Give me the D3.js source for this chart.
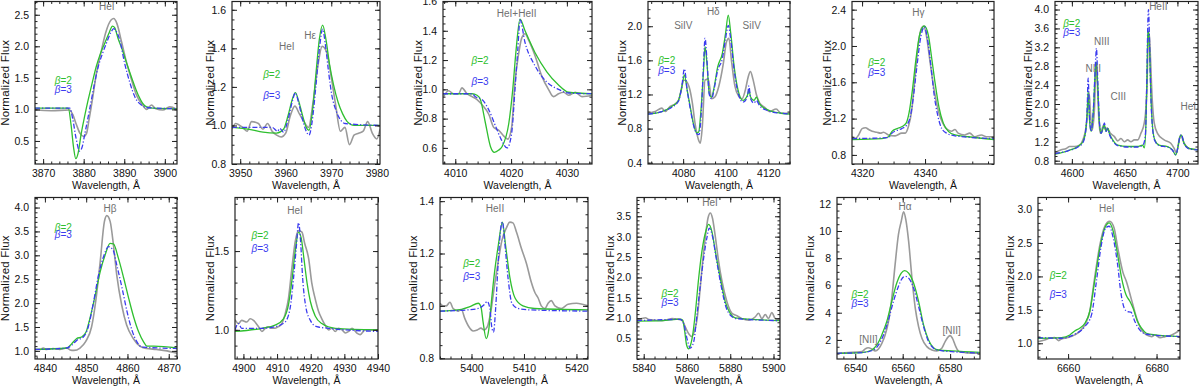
<!DOCTYPE html>
<html>
<head>
<meta charset="utf-8">
<script src="https://cdn.jsdelivr.net/npm/d3@7"></script>
<style>
body { margin: 0; background: #fff; }
</style>
</head>
<body>
<div class="viz"></div>
<script>
// ---- data: [wavelength (A), normalized flux] ----
var obs1 = [[3868,0.99],[3872,0.98],[3876.5,0.99],[3877.3,0.92],[3878.2,0.76],[3879.1,0.62],[3880.0,0.57],[3880.7,0.62],[3881.3,0.83],[3882.3,1.22],[3883.0,1.52],[3884.4,1.94],[3885.4,2.21],[3886.8,2.42],[3887.4,2.44],[3888.2,2.36],[3889.3,2.08],[3890.5,1.76],[3891.8,1.47],[3893.0,1.23],[3894.5,1.07],[3895.5,1.0],[3896.7,1.07],[3897.8,1.01],[3899.5,0.99],[3901.2,1.04],[3903,1.0]];
var b2_1 = [[3868,1.02],[3876.2,1.02],[3876.9,0.75],[3877.5,0.40],[3878.05,0.22],[3878.6,0.30],[3879.4,0.62],[3880.2,0.88],[3881.1,1.15],[3882.1,1.42],[3883.1,1.68],[3884.1,1.88],[3885.2,2.05],[3886.3,2.22],[3887.1,2.32],[3887.6,2.30],[3888.5,2.12],[3889.5,1.95],[3890.5,1.75],[3891.5,1.56],[3892.5,1.38],[3893.5,1.22],[3894.5,1.10],[3895.5,1.04],[3897,1.02],[3903,1.01]];
var b3_1 = [[3868,1.02],[3876.6,1.02],[3877.3,0.85],[3878.1,0.55],[3879.0,0.34],[3879.6,0.40],[3880.3,0.62],[3881.1,0.88],[3881.9,1.15],[3882.7,1.42],[3883.6,1.68],[3884.6,1.88],[3885.6,2.05],[3886.7,2.22],[3887.4,2.28],[3887.9,2.25],[3888.9,2.10],[3890.1,1.73],[3891.4,1.42],[3892.6,1.20],[3894.2,1.07],[3895.5,1.03],[3903,1.01]];

var obs2 = [[3948.2,0.98],[3949,1.01],[3950.5,0.99],[3951.5,0.97],[3952.5,1.02],[3954,1.01],[3955,0.98],[3956,1.01],[3957,0.97],[3958,0.95],[3959,0.94],[3960,0.96],[3961,1.05],[3962,1.10],[3963,1.06],[3964,1.02],[3965,0.99],[3966,1.12],[3967,1.30],[3968,1.41],[3969,1.38],[3970,1.25],[3971,1.10],[3972,0.97],[3973,0.99],[3974,0.90],[3975,0.95],[3976,0.96],[3977,0.97],[3978,1.02],[3979,0.96],[3980,0.93],[3980.7,0.98]];
var b2_2 = [[3948.2,0.99],[3952,0.98],[3955,0.965],[3958,0.96],[3959.5,0.98],[3960.5,1.05],[3961.5,1.14],[3962.1,1.17],[3962.8,1.13],[3963.6,1.06],[3964.5,0.99],[3965.1,0.975],[3965.8,1.06],[3966.6,1.26],[3967.4,1.45],[3968.1,1.52],[3968.8,1.45],[3969.6,1.32],[3970.5,1.21],[3971.5,1.12],[3972.5,1.06],[3973.5,1.02],[3975,1.0],[3980.7,1.0]];
var b3_2 = [[3948.2,0.99],[3957,0.99],[3958.2,0.97],[3958.7,0.985],[3959.5,0.965],[3960.5,1.03],[3961.5,1.13],[3962.1,1.17],[3962.8,1.12],[3963.6,1.04],[3964.5,0.97],[3965.1,0.95],[3965.8,1.02],[3966.6,1.20],[3967.4,1.40],[3968.1,1.50],[3968.7,1.42],[3969.4,1.28],[3970.1,1.16],[3971,1.08],[3972,1.03],[3973,1.01],[3980.7,1.0]];

var obs3 = [[4007.9,0.95],[4008.8,0.99],[4009.7,0.97],[4010.6,0.97],[4011.2,1.01],[4012.1,0.97],[4013.0,0.95],[4013.9,0.93],[4014.9,0.89],[4016.0,0.83],[4016.9,0.74],[4017.8,0.72],[4018.7,0.68],[4019.4,0.66],[4020.1,0.74],[4020.7,1.05],[4021.3,1.23],[4021.9,1.35],[4022.5,1.38],[4023.1,1.34],[4024.3,1.23],[4025.5,1.09],[4026.7,1.0],[4027.6,0.95],[4028.5,0.97],[4029.4,0.98],[4030.3,0.96],[4031.5,0.98],[4032.7,0.95],[4034.5,0.96]];
var b2_3 = [[4007.8,0.97],[4013.0,0.97],[4013.9,0.96],[4014.5,0.93],[4015.4,0.77],[4016.3,0.61],[4017.0,0.57],[4017.8,0.585],[4018.4,0.61],[4019.6,0.77],[4020.3,1.0],[4020.9,1.27],[4021.6,1.48],[4022.5,1.40],[4024.3,1.25],[4026.4,1.12],[4028.5,1.03],[4030.3,0.98],[4034.5,0.97]];
var b3_3 = [[4007.8,0.97],[4013.0,0.97],[4013.6,0.95],[4014.8,0.93],[4016.0,0.86],[4017.2,0.75],[4018.2,0.66],[4019.3,0.60],[4020.1,0.70],[4020.7,1.0],[4021.2,1.27],[4021.6,1.475],[4022.5,1.32],[4024.3,1.16],[4026.4,1.05],[4028.5,1.0],[4030.3,0.975],[4034.5,0.97]];

var obs4 = [[4063.5,0.98],[4066.9,1.0],[4070.0,1.04],[4071.6,1.0],[4073.9,1.06],[4076.3,1.09],[4077.8,1.13],[4079.1,1.25],[4080.2,1.37],[4081.7,1.35],[4082.8,1.29],[4084.4,1.09],[4085.6,0.86],[4087.2,0.67],[4088.1,0.63],[4089.0,0.82],[4090.3,1.37],[4091.8,1.38],[4093.4,1.15],[4094.9,1.17],[4096.8,1.30],[4098.8,1.55],[4100.4,1.82],[4101.5,1.86],[4102.7,1.60],[4104.3,1.30],[4106.1,1.18],[4107.7,1.15],[4109.2,1.25],[4110.5,1.40],[4111.6,1.47],[4112.8,1.38],[4114.4,1.20],[4115.9,1.10],[4118.3,1.05],[4120.6,1.0],[4123.7,1.03],[4126.0,0.98],[4130.2,0.98]];
var b2_4 = [[4063.5,0.97],[4070.0,1.0],[4074.7,1.06],[4077.8,1.13],[4079.4,1.29],[4080.6,1.43],[4081.9,1.25],[4083.3,1.06],[4084.8,0.86],[4086.4,0.75],[4087.3,0.76],[4088.4,1.02],[4089.5,1.45],[4090.3,1.76],[4091.2,1.56],[4092.3,1.21],[4093.4,1.17],[4094.6,1.29],[4096.2,1.52],[4098.4,1.68],[4099.9,1.91],[4101.2,2.13],[4102.4,1.91],[4104.0,1.52],[4105.8,1.25],[4108.1,1.13],[4110.2,1.19],[4110.9,1.25],[4111.7,1.17],[4113.3,1.13],[4114.4,1.17],[4115.9,1.09],[4119.8,1.02],[4126.0,0.98],[4130.2,0.97]];
var b3_4 = [[4063.5,0.97],[4070.0,1.0],[4074.7,1.05],[4077.8,1.12],[4079.4,1.30],[4080.6,1.50],[4081.9,1.25],[4083.3,1.04],[4084.8,0.85],[4086.4,0.74],[4087.5,0.73],[4088.5,0.98],[4089.5,1.50],[4090.3,1.86],[4091.2,1.60],[4092.3,1.20],[4093.4,1.15],[4094.6,1.27],[4096.2,1.48],[4098.4,1.62],[4099.9,1.85],[4101.2,2.01],[4102.4,1.84],[4104.0,1.48],[4105.8,1.22],[4108.1,1.11],[4110.2,1.17],[4110.9,1.30],[4111.7,1.15],[4113.3,1.10],[4114.4,1.13],[4115.9,1.07],[4119.8,1.01],[4126.0,0.98],[4130.2,0.97]];

var obs5 = [[4316.8,1.0],[4317.9,0.98],[4318.9,1.02],[4320.0,1.09],[4321.1,1.10],[4322.1,1.08],[4323.2,1.06],[4324.7,1.05],[4325.8,1.04],[4326.8,1.05],[4328.4,1.02],[4330.5,1.01],[4332.6,1.04],[4333.7,1.04],[4334.7,1.11],[4335.8,1.30],[4336.8,1.66],[4337.9,2.03],[4338.9,2.20],[4339.6,2.22],[4340.5,2.10],[4341.5,1.85],[4342.5,1.60],[4343.5,1.40],[4344.5,1.25],[4345.5,1.16],[4346.5,1.10],[4347.6,1.07],[4348.4,1.06],[4349.5,1.08],[4350.5,1.04],[4352.6,1.02],[4354.2,1.04],[4355.8,1.0],[4357.9,1.02],[4359.5,1.0],[4361.9,1.0]];
var b2_5 = [[4316.8,0.97],[4326.3,0.98],[4328.4,1.0],[4329.5,1.06],[4331.1,1.09],[4332.6,1.11],[4334.0,1.15],[4334.9,1.26],[4336.0,1.52],[4337.1,1.85],[4338.4,2.14],[4339.8,2.22],[4341.1,2.11],[4342.1,1.87],[4343.2,1.59],[4344.4,1.33],[4345.8,1.15],[4347.4,1.06],[4349.5,1.02],[4353.7,1.0],[4361.9,0.97]];
var b3_5 = [[4316.8,0.98],[4328.4,0.99],[4329.5,1.04],[4331.1,1.07],[4332.6,1.09],[4334.2,1.13],[4335.3,1.22],[4336.3,1.44],[4337.4,1.77],[4338.7,2.11],[4339.8,2.21],[4340.8,2.07],[4341.9,1.77],[4342.9,1.46],[4344.0,1.24],[4345.3,1.09],[4346.8,1.04],[4349.5,1.01],[4361.9,0.98]];

var obs6 = [[4584,0.97],[4589.9,1.03],[4594.7,1.06],[4597.8,1.10],[4602.5,1.10],[4607.2,1.13],[4610.4,1.24],[4613.5,1.52],[4615.1,1.95],[4616.4,2.23],[4617.6,1.80],[4619.2,1.45],[4621.4,1.90],[4623.0,2.87],[4624.2,2.40],[4625.5,1.70],[4627.0,1.38],[4630.2,1.56],[4631.8,1.45],[4633.3,1.49],[4636.5,1.38],[4640.3,1.31],[4643.4,1.22],[4646.5,1.27],[4649.7,1.20],[4652.8,1.24],[4656.0,1.20],[4659.1,1.24],[4662.3,1.24],[4665.4,1.38],[4668.6,1.60],[4670.1,1.90],[4671.4,2.6],[4672.3,3.36],[4673.3,3.50],[4674.5,2.95],[4676.1,2.10],[4678.0,1.60],[4681.1,1.38],[4687.4,1.24],[4693.7,1.17],[4696.9,1.06],[4699.1,0.96],[4701.6,1.24],[4703.1,1.34],[4706.3,1.17],[4711.0,1.06],[4719.5,1.03]];
var b2_6 = [[4584,0.94],[4596.2,1.01],[4605.7,1.10],[4610.4,1.20],[4612.9,1.40],[4614.5,1.81],[4615.4,2.27],[4616.7,1.66],[4618.2,1.42],[4620.4,1.88],[4622.3,2.73],[4623.3,2.88],[4624.5,2.37],[4626.1,1.60],[4627.7,1.38],[4629.6,1.49],[4630.8,1.56],[4632.4,1.42],[4634.0,1.49],[4635.5,1.38],[4638.7,1.24],[4643.4,1.13],[4652.8,1.10],[4662.3,1.10],[4667.0,1.13],[4668.6,1.07],[4670.1,1.52],[4671.1,2.44],[4672.0,3.50],[4672.6,3.54],[4673.6,3.15],[4674.8,2.23],[4676.4,1.52],[4678.6,1.24],[4682.7,1.13],[4690.6,1.10],[4695.3,1.03],[4698.4,0.92],[4700.6,1.10],[4702.5,1.31],[4703.8,1.34],[4706.3,1.17],[4711.0,1.06],[4719.5,1.03]];
var b3_6 = [[4584,0.95],[4596.2,1.01],[4605.7,1.09],[4610.4,1.18],[4612.9,1.40],[4614.5,1.90],[4615.4,2.55],[4616.7,1.75],[4618.2,1.42],[4620.4,1.90],[4622.3,2.85],[4623.3,3.18],[4624.5,2.50],[4626.1,1.62],[4627.7,1.38],[4629.6,1.50],[4630.8,1.60],[4632.4,1.42],[4634.0,1.48],[4635.5,1.36],[4638.7,1.22],[4643.4,1.12],[4652.8,1.09],[4662.3,1.09],[4667.0,1.12],[4669.5,1.30],[4671.1,2.60],[4672.0,3.75],[4672.6,4.0],[4673.6,3.30],[4674.8,2.20],[4676.4,1.50],[4678.6,1.22],[4682.7,1.12],[4690.6,1.09],[4695.3,1.02],[4698.4,0.93],[4700.6,1.10],[4702.5,1.32],[4703.8,1.35],[4706.3,1.16],[4711.0,1.05],[4719.5,1.03]];

var obs7 = [[4837.6,1.03],[4838.8,1.03],[4839.6,1.06],[4840.4,1.03],[4842.0,1.05],[4843.6,1.03],[4845.3,1.06],[4846.1,1.02],[4847.0,1.01],[4848.5,1.06],[4849.9,1.20],[4851.3,1.50],[4852.4,2.10],[4853.4,2.87],[4854.4,3.70],[4855.0,3.83],[4855.8,3.71],[4856.6,3.22],[4857.4,2.59],[4858.6,1.96],[4859.8,1.54],[4861.4,1.26],[4863.0,1.10],[4864.6,1.05],[4867,1.03],[4869.6,1.0],[4872,0.95]];
var b2_7 = [[4837.6,1.03],[4845.3,1.06],[4846.5,1.15],[4847.7,1.26],[4848.9,1.29],[4850.0,1.40],[4850.9,1.68],[4852.2,2.17],[4853.4,2.66],[4854.6,3.01],[4855.8,3.25],[4856.6,3.24],[4857.8,2.94],[4859.1,2.52],[4860.3,2.10],[4861.5,1.71],[4862.7,1.40],[4863.9,1.19],[4864.7,1.10],[4866.4,1.10],[4872,1.06]];
var b3_7 = [[4837.6,1.03],[4845.3,1.06],[4846.5,1.12],[4847.7,1.22],[4849.3,1.29],[4850.5,1.50],[4851.8,2.03],[4853.0,2.59],[4854.2,2.97],[4855.4,3.18],[4856.5,3.11],[4857.4,2.80],[4858.7,2.31],[4859.9,1.82],[4861.1,1.43],[4862.3,1.19],[4863.5,1.08],[4872,1.05]];

var obs8 = [[4897.5,1.064],[4898.5,1.04],[4899.5,1.06],[4901.0,1.05],[4902.0,1.07],[4903.0,1.06],[4904.5,1.02],[4905.5,0.99],[4906.5,1.01],[4907.4,1.02],[4908.4,1.01],[4909.4,1.01],[4910.4,1.02],[4911.4,1.04],[4912.4,1.10],[4913.4,1.20],[4914.4,1.39],[4915.4,1.56],[4916.4,1.63],[4917.4,1.62],[4918.2,1.55],[4919.4,1.45],[4920.3,1.30],[4921.3,1.20],[4922.3,1.12],[4923.3,1.07],[4924.3,1.03],[4925.3,1.0],[4926.3,1.01],[4927.3,0.99],[4928.3,1.01],[4929.3,1.0],[4930.3,0.98],[4931.3,0.99],[4932.3,1.01],[4933.7,0.98],[4934.7,0.97],[4936.2,1.0],[4940,1.0]];
var b2_8 = [[4897.5,0.99],[4905.5,1.01],[4909.4,1.03],[4911.9,1.07],[4913.4,1.16],[4914.4,1.31],[4915.4,1.50],[4916.4,1.62],[4917.2,1.58],[4918.0,1.45],[4918.9,1.30],[4919.9,1.18],[4921.3,1.09],[4923.3,1.04],[4927.3,1.01],[4940,1.0]];
var b3_8 = [[4897.5,1.0],[4898.5,1.04],[4899.5,1.01],[4905.5,1.01],[4909.4,1.02],[4912.4,1.05],[4913.9,1.14],[4914.9,1.33],[4915.7,1.52],[4916.4,1.68],[4917.0,1.56],[4917.6,1.33],[4918.6,1.14],[4919.9,1.06],[4921.8,1.02],[4925.3,1.01],[4940,0.99]];

var obs9 = [[5394.0,1.01],[5394.6,1.0],[5395.2,1.0],[5395.9,1.014],[5396.5,0.99],[5397.5,0.98],[5398.1,0.985],[5398.7,0.953],[5399.5,0.92],[5400.3,0.904],[5401.1,0.908],[5401.8,0.915],[5402.4,0.908],[5403.0,0.92],[5403.7,0.98],[5404.4,1.08],[5405.1,1.17],[5405.8,1.25],[5406.7,1.30],[5407.3,1.32],[5407.9,1.317],[5408.6,1.28],[5409.5,1.22],[5410.5,1.16],[5411.4,1.09],[5412.1,1.05],[5412.7,1.03],[5413.3,1.0],[5414.0,0.99],[5414.6,1.01],[5415.2,1.02],[5415.9,1.0],[5417.1,0.99],[5418.4,1.006],[5420.0,1.01],[5422.2,1.0]];
var b2_9 = [[5394,0.98],[5398.1,0.987],[5399.7,0.997],[5401.3,1.01],[5401.8,0.997],[5402.2,0.94],[5402.8,0.875],[5403.3,0.91],[5403.8,1.017],[5404.4,1.13],[5405.1,1.23],[5405.9,1.32],[5406.5,1.23],[5407.3,1.11],[5408.3,1.03],[5409.8,1.0],[5412,0.99],[5422.2,0.985]];
var b3_9 = [[5394,0.98],[5399.4,0.985],[5401.3,0.99],[5402.4,1.004],[5403.0,1.017],[5403.5,0.99],[5403.9,0.914],[5404.2,0.90],[5404.6,0.99],[5405.1,1.17],[5405.6,1.30],[5405.9,1.32],[5406.3,1.25],[5407.0,1.10],[5407.7,1.01],[5408.9,0.99],[5410.8,0.985],[5422.2,0.98]];

var obs10 = [[5836.9,0.95],[5839.2,0.99],[5840.8,1.01],[5842.3,0.97],[5845.4,0.95],[5848.5,0.94],[5850.8,0.96],[5853.1,0.99],[5855.4,0.98],[5857.7,0.95],[5859.2,0.79],[5860.8,0.62],[5862.3,0.55],[5863.8,0.75],[5864.6,0.95],[5865.7,1.5],[5866.9,2.2],[5868.5,3.0],[5869.7,3.45],[5870.8,3.58],[5871.8,3.45],[5873.1,3.0],[5874.6,2.4],[5876.2,1.9],[5878.5,1.40],[5880.8,1.12],[5883.1,1.06],[5885.4,0.99],[5888.5,0.95],[5891.5,1.03],[5893.1,1.12],[5894.6,0.99],[5896.2,1.09],[5897.7,0.99],[5899.2,1.14],[5900.8,0.99],[5903,0.95]];
var b2_10 = [[5836.9,0.93],[5848.5,0.94],[5856.9,0.98],[5858.0,0.95],[5858.9,0.70],[5859.8,0.35],[5860.8,0.25],[5861.7,0.35],[5862.8,0.65],[5863.8,1.10],[5865.4,1.98],[5866.9,2.64],[5868.5,3.09],[5870.0,3.30],[5871.5,3.13],[5873.1,2.64],[5875.4,1.98],[5877.7,1.40],[5880.0,1.12],[5882.3,1.01],[5888.5,0.98],[5903,0.94]];
var b3_10 = [[5836.9,0.94],[5856.9,0.97],[5858.5,0.87],[5860.0,0.50],[5861.5,0.27],[5863.1,0.42],[5864.6,1.08],[5866.2,1.82],[5867.7,2.47],[5869.2,2.97],[5870.3,3.21],[5871.8,3.01],[5873.4,2.51],[5875.7,1.82],[5878.0,1.28],[5880.3,1.06],[5883.1,0.99],[5903,0.94]];

var obs11 = [[6532.3,1.02],[6537.2,1.07],[6542.8,1.14],[6544.2,1.34],[6545.4,1.43],[6547.0,1.34],[6548.4,1.19],[6549.8,1.34],[6551.2,1.75],[6552.6,2.37],[6554.0,3.35],[6555.4,5.07],[6556.8,7.53],[6558.2,9.74],[6559.4,10.72],[6560.4,11.41],[6561.3,10.85],[6562.5,9.25],[6563.9,6.55],[6565.3,4.33],[6566.7,2.98],[6568.1,2.12],[6570.2,1.51],[6572.3,1.26],[6574.4,1.19],[6576.5,1.39],[6577.9,1.88],[6579.3,2.25],[6580.0,2.32],[6581.0,2.12],[6582.4,1.51],[6583.8,1.14],[6586.3,1.07],[6592.6,1.02]];
var b2_11 = [[6532.3,1.02],[6542.8,1.07],[6547.0,1.26],[6549.1,1.63],[6551.2,2.37],[6553.3,3.35],[6555.4,4.83],[6557.5,6.18],[6559.4,6.91],[6560.8,7.09],[6562.5,6.91],[6564.6,6.18],[6566.7,4.83],[6568.8,3.11],[6570.9,2.0],[6573.0,1.43],[6575.1,1.26],[6580.7,1.19],[6592.6,1.09]];
var b3_11 = [[6532.3,1.02],[6542.8,1.07],[6547.7,1.26],[6549.8,1.63],[6551.9,2.37],[6554.0,3.47],[6556.1,4.83],[6558.2,5.93],[6559.9,6.55],[6561.1,6.67],[6562.7,6.50],[6564.6,5.81],[6566.7,4.46],[6568.8,2.98],[6570.9,1.88],[6573.0,1.39],[6575.1,1.24],[6580.7,1.14],[6592.6,1.04]];

var obs12 = [[6653.2,1.025],[6654.7,1.05],[6655.8,1.075],[6657.0,1.085],[6657.9,1.04],[6658.5,1.065],[6660.0,1.085],[6661.5,1.125],[6662.6,1.175],[6663.8,1.275],[6664.9,1.475],[6666.0,1.975],[6667.2,2.475],[6668.3,2.75],[6669.4,2.825],[6670.4,2.725],[6671.3,2.40],[6672.4,2.06],[6673.2,1.92],[6674.3,1.66],[6675.5,1.375],[6676.6,1.20],[6677.7,1.125],[6678.9,1.10],[6679.6,1.125],[6680.8,1.085],[6681.9,1.10],[6683.4,1.125],[6685.3,1.20]];
var b2_12 = [[6653.2,1.075],[6658.5,1.085],[6660.4,1.125],[6661.5,1.185],[6662.6,1.225],[6663.8,1.30],[6664.9,1.475],[6666.0,1.925],[6667.2,2.425],[6668.3,2.725],[6669.3,2.80],[6670.2,2.675],[6671.2,2.325],[6672.1,1.975],[6673.1,1.725],[6674.0,1.625],[6674.7,1.525],[6675.7,1.325],[6676.6,1.225],[6677.7,1.15],[6679.6,1.125],[6685.3,1.10]];
var b3_12 = [[6653.2,1.085],[6658.5,1.075],[6661.5,1.135],[6663.8,1.25],[6665.3,1.425],[6666.4,1.925],[6667.4,2.425],[6668.5,2.725],[6669.3,2.75],[6670.2,2.575],[6671.2,2.175],[6671.9,1.775],[6672.7,1.525],[6673.4,1.475],[6674.2,1.465],[6675.1,1.325],[6676.2,1.20],[6677.7,1.135],[6685.3,1.10]];

// ---- panel layout ----
var panels = [
  {box: [35, 1.5, 177, 164], xd: [3868, 3903], yd: [0.135, 2.71], xt: [3870, 3880, 3890, 3900], yt: [0.5, 1.0, 1.5, 2.0, 2.5], xm: 2, ym: 0.1, fmt: '.1f', yt_off: 30,
   obs: obs1, b2: b2_1, b3: b3_1, beta: [[28.3, 78.5], [28.3, 87]], notes: [['HeI', 71.7, 5.2]]},
  {box: [232, 1.5, 380, 164], xd: [3948.2, 3980.7], yd: [0.80, 1.643], xt: [3950, 3960, 3970, 3980], yt: [0.8, 1.0, 1.2, 1.4, 1.6], xm: 2, ym: 0.05, fmt: '.1f', yt_off: 22,
   obs: obs2, b2: b2_2, b3: b3_2, beta: [[39.7, 72.5], [39.7, 93.5]], notes: [['HeI', 54.7, 45.2], ['H\u03b5', 78, 33.5]]},
  {box: [443, 1.5, 592, 164], xd: [4007.8, 4034.5], yd: [0.49, 1.6], xt: [4010, 4020, 4030], yt: [0.6, 0.8, 1.0, 1.2, 1.4, 1.6], xm: 2, ym: 0.05, fmt: '.1f', yt_off: 24.7,
   obs: obs3, b2: b2_3, b3: b3_3, beta: [[37, 58.5], [37, 79.2]], notes: [['HeI+HeII', 73.7, 11.8]]},
  {box: [648, 1.5, 790, 164], xd: [4063.5, 4130.2], yd: [0.385, 2.29], xt: [4080, 4100, 4120], yt: [0.4, 0.8, 1.2, 1.6, 2.0], xm: 5, ym: 0.1, fmt: '.1f', yt_off: 26.3,
   obs: obs4, b2: b2_4, b3: b3_4, beta: [[18.7, 58.5], [18.7, 68.5]], notes: [['SiIV', 35.3, 23.5], ['H\u03b4', 65.3, 10.2], ['SiIV', 103.7, 23.5]]},
  {box: [852, 1.5, 994, 164], xd: [4316.8, 4361.9], yd: [0.70, 2.49], xt: [4320, 4340], yt: [0.8, 1.2, 1.6, 2.0, 2.4], xm: 5, ym: 0.1, fmt: '.1f', yt_off: 25.3,
   obs: obs5, b2: b2_5, b3: b3_5, beta: [[24.7, 60.2], [24.7, 70.2]], notes: [['H\u03b3', 66.3, 11.2]]},
  {box: [1055, 1.5, 1198, 164], xd: [4584, 4719.5], yd: [0.73, 4.17], xt: [4600, 4650, 4700], yt: [0.8, 1.2, 1.6, 2.0, 2.4, 2.8, 3.2, 3.6, 4.0], xm: 10, ym: 0.1, fmt: '.1f', yt_off: 26.7,
   obs: obs6, b2: b2_6, b3: b3_6, beta: [[16.7, 21.8], [16.7, 30.2]],
   notes: [['NIII', 46.7, 40.2], ['NIII', 38.3, 66.8], ['CIII', 63.3, 95.2], ['HeII', 103.3, 5.2], ['HeI', 133.3, 105.2]]},
  {box: [35, 197.5, 177, 359], xd: [4837.6, 4872], yd: [0.83, 4.21], xt: [4840, 4850, 4860, 4870], yt: [1.0, 1.5, 2.0, 2.5, 3.0, 3.5, 4.0], xm: 2, ym: 0.1, fmt: '.1f', yt_off: 30,
   obs: obs7, b2: b2_7, b3: b3_7, beta: [[28.3, 29.2], [28.3, 36.8]], notes: [['H\u03b2', 75, 10.8]]},
  {box: [235, 197.5, 378, 359], xd: [4897.5, 4940], yd: [0.815, 1.84], xt: [4900, 4910, 4920, 4930, 4940], yt: [1.0, 1.5], xm: 2, ym: 0.1, fmt: '.1f', yt_off: 25,
   obs: obs8, b2: b2_8, b3: b3_8, beta: [[25, 37.5], [25, 50.2]], notes: [['HeI', 60, 12.5]]},
  {box: [440, 197.5, 588, 359], xd: [5394, 5422.2], yd: [0.797, 1.414], xt: [5400, 5410, 5420], yt: [0.8, 1.0, 1.2, 1.4], xm: 2, ym: 0.05, fmt: '.1f', yt_off: 26.7,
   obs: obs9, b2: b2_9, b3: b3_9, beta: [[31.7, 65.8], [31.7, 78.2]], notes: [['HeII', 55, 10.8]]},
  {box: [637, 197.5, 780, 359], xd: [5836.9, 5903], yd: [0.0, 3.96], xt: [5840, 5860, 5880, 5900], yt: [0.5, 1.0, 1.5, 2.0, 2.5, 3.0, 3.5], xm: 5, ym: 0.1, fmt: '.1f', yt_off: 27,
   obs: obs10, b2: b2_10, b3: b3_10, beta: [[33, 95.2], [33, 104.8]], notes: [['HeI', 73, 4.8]]},
  {box: [837, 197.5, 980, 359], xd: [6532.3, 6592.6], yd: [0.6, 12.46], xt: [6540, 6560, 6580], yt: [2, 4, 6, 8, 10, 12], xm: 5, ym: 0.5, fmt: 'd', yt_off: 27,
   obs: obs11, b2: b2_11, b3: b3_11, beta: [[23, 96.8], [23, 105.2]], notes: [['H\u03b1', 68, 9.2], ['[NII]', 31.3, 141.8], ['[NII]', 114.7, 132.5]]},
  {box: [1038, 197.5, 1180, 359], xd: [6653.2, 6685.3], yd: [0.765, 3.18], xt: [6660, 6680], yt: [1.0, 1.5, 2.0, 2.5, 3.0], xm: 5, ym: 0.1, fmt: '.1f', yt_off: 28,
   obs: obs12, b2: b2_12, b3: b3_12, beta: [[20.3, 77.5], [20.3, 96.8]], notes: [['HeI', 68.7, 10.8]]}
];

var FONT = '"Liberation Sans", Arial, Helvetica, sans-serif';
var GREEN = '#2fbf2f', BLUE = '#3b3bf0', GRAY = '#9a9a9a', INK = '#222';

var svg = d3.select('.viz').append('svg')
    .attr('width', 1200)
    .attr('height', 390)
    .style('font-family', FONT);

function addAxis(g, axis, transform) {
    var a = g.append('g').attr('transform', transform).call(axis);
    a.select('.domain').remove();
    a.selectAll('.tick line').attr('stroke', INK).attr('stroke-width', 1);
    a.selectAll('.tick text').attr('fill', '#111').style('font-size', '10.5px').style('font-family', FONT);
    return a;
}

function minorTicks(dom, step) {
    var start = Math.ceil(dom[0] / step - 1e-9) * step;
    return d3.range(start, dom[1] + 1e-9, step);
}

panels.forEach(function (p, i) {
    var l = p.box[0], t = p.box[1], r = p.box[2], b = p.box[3];
    var w = r - l, h = b - t;
    var x = d3.scaleLinear().domain(p.xd).range([l, r]);
    var y = d3.scaleLinear().domain(p.yd).range([b, t]);

    var g = svg.append('g').attr('class', 'panel panel-' + i);

    g.append('clipPath').attr('id', 'clip' + i)
        .append('rect').attr('x', l).attr('y', t).attr('width', w).attr('height', h);

    var line = d3.line()
        .x(function (d) { return x(d[0]); })
        .y(function (d) { return y(d[1]); })
        .curve(d3.curveMonotoneX);

    var lines = g.append('g').attr('clip-path', 'url(#clip' + i + ')');
    lines.append('path').datum(p.obs).attr('d', line)
        .attr('fill', 'none').attr('stroke', GRAY).attr('stroke-width', 1.6);
    lines.append('path').datum(p.b2).attr('d', line)
        .attr('fill', 'none').attr('stroke', GREEN).attr('stroke-width', 1.3);
    lines.append('path').datum(p.b3).attr('d', line)
        .attr('fill', 'none').attr('stroke', BLUE).attr('stroke-width', 1.3)
        .attr('stroke-dasharray', '5,2,1.2,2');

    // ticks on all four sides, pointing inward
    var xMin = minorTicks(p.xd, p.xm), yMin = minorTicks(p.yd, p.ym);
    addAxis(g, d3.axisBottom(x).tickValues(xMin).tickSize(-2.5).tickFormat(''), 'translate(0,' + b + ')');
    addAxis(g, d3.axisTop(x).tickValues(xMin).tickSize(-2.5).tickFormat(''), 'translate(0,' + t + ')');
    addAxis(g, d3.axisLeft(y).tickValues(yMin).tickSize(-2.5).tickFormat(''), 'translate(' + l + ',0)');
    addAxis(g, d3.axisRight(y).tickValues(yMin).tickSize(-2.5).tickFormat(''), 'translate(' + r + ',0)');

    addAxis(g, d3.axisBottom(x).tickValues(p.xt).tickSize(-5).tickPadding(5.5).tickFormat(d3.format('d')), 'translate(0,' + b + ')');
    addAxis(g, d3.axisTop(x).tickValues(p.xt).tickSize(-5).tickFormat(''), 'translate(0,' + t + ')');
    addAxis(g, d3.axisLeft(y).tickValues(p.yt).tickSize(-5).tickPadding(6).tickFormat(d3.format(p.fmt)), 'translate(' + l + ',0)');
    addAxis(g, d3.axisRight(y).tickValues(p.yt).tickSize(-5).tickFormat(''), 'translate(' + r + ',0)');

    g.append('rect')
        .attr('x', l).attr('y', t).attr('width', w).attr('height', h)
        .attr('fill', 'none').attr('stroke', INK).attr('stroke-width', 1.2);

    // axis titles
    g.append('text')
        .attr('x', l + w / 2).attr('y', b + 25)
        .attr('text-anchor', 'middle')
        .style('font-size', '10.5px').attr('fill', '#111')
        .text('Wavelength, \u00c5');

    g.append('text')
        .attr('transform', 'translate(' + (l - p.yt_off) + ',' + (t + h / 2) + ') rotate(-90)')
        .attr('text-anchor', 'middle')
        .attr('dominant-baseline', 'central')
        .style('font-size', '11.5px').style('letter-spacing', '0.2px').attr('fill', '#111')
        .text('Normalized Flux');

    // line identifications
    p.notes.forEach(function (n) {
        g.append('text')
            .attr('x', l + n[1]).attr('y', t + n[2])
            .attr('text-anchor', 'middle')
            .attr('dominant-baseline', 'central')
            .style('font-size', '10px').attr('fill', '#707070')
            .text(n[0]);
    });

    // model labels
    [[p.beta[0], '=2', GREEN], [p.beta[1], '=3', BLUE]].forEach(function (m) {
        var tx = g.append('text')
            .attr('x', l + m[0][0]).attr('y', t + m[0][1])
            .attr('text-anchor', 'middle')
            .attr('dominant-baseline', 'central')
            .style('font-size', '10px').attr('fill', m[2]);
        tx.append('tspan').style('font-style', 'italic').text('\u03b2');
        tx.append('tspan').text(m[1]);
    });
});
</script>
</body>
</html>
